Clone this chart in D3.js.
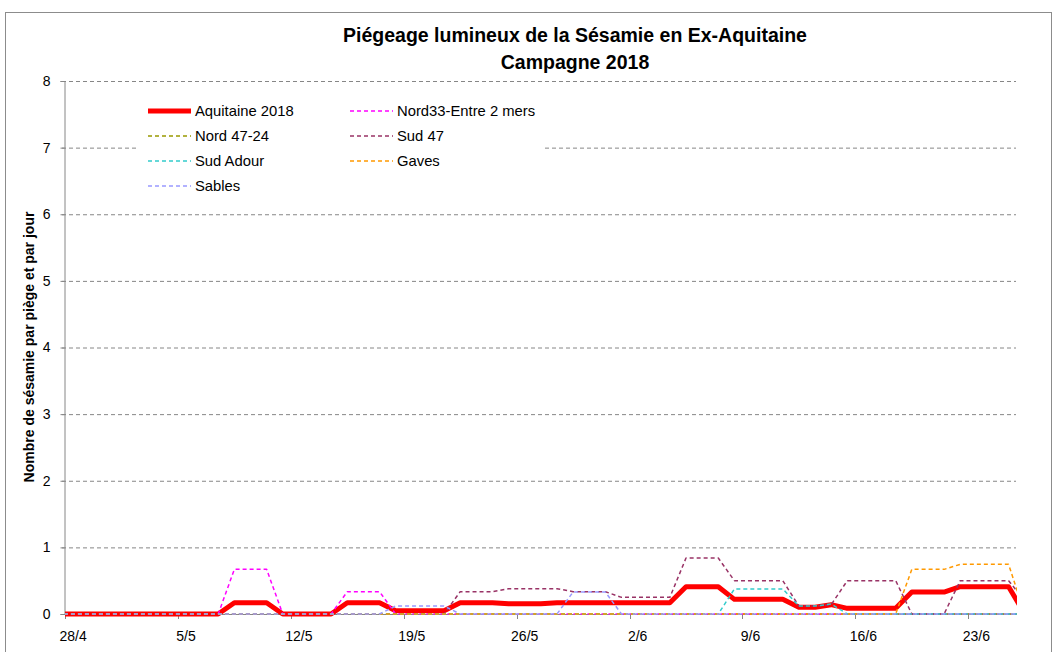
<!DOCTYPE html>
<html><head><meta charset="utf-8">
<script src="https://cdn.jsdelivr.net/npm/d3@7"></script>
<style>body{margin:0;background:#fff}svg{display:block}text{font-family:"Liberation Sans",Arial,sans-serif;fill:#000}</style>
</head><body>
<svg id="c" width="1061" height="652"></svg>
<script>
// Daily categories from 27/4/2018 to 26/6/2018 (61 days)
const firstDay = new Date(2018, 3, 27);
const lastDay = new Date(2018, 5, 26);
const categories = d3.timeDay.range(firstDay, d3.timeDay.offset(lastDay, 1));

const tickLabels = ["28/4","5/5","12/5","19/5","26/5","2/6","9/6","16/6","23/6"];
const yTicks = [0,1,2,3,4,5,6,7,8];

const aquitaine = [0,0,0,0,0,0,0,0,0,0,0, 0.17,0.17,0.17, 0,0,0,0, 0.17,0.17,0.17, 0.05,0.05,0.05,0.05, 0.17,0.17,0.17, 0.155,0.155,0.155, 0.17,0.17,0.17,0.17,0.17,0.17,0.17,0.17, 0.41,0.41,0.41, 0.22,0.22,0.22,0.22, 0.1,0.1,0.14, 0.085,0.085,0.085,0.085, 0.33,0.33,0.33, 0.41,0.41,0.41,0.41, 0];
const nord33 = [0,0,0,0,0,0,0,0,0,0,0, 0.67,0.67,0.67, 0,0,0,0, 0.335,0.335,0.335, 0,0,0,0,0,0,0,0,0,0,0,0,0,0,0,0,0,0,0,0,0,0,0,0,0,0,0,0,0,0,0,0,0,0,0,0,0,0,0,0];
const nord4724 = [0,0,0,0,0,0,0,0,0,0,0,0,0,0,0,0,0,0,0,0,0,0,0,0,0,0,0,0,0,0,0,0,0,0,0,0,0,0,0,0,0,0,0,0,0,0,0,0,0,0,0,0,0,0,0,0,0,0,0,0,0];
const sud47 = [0,0,0,0,0,0,0,0,0,0,0,0,0,0,0,0,0,0,0,0,0,0,0,0,0, 0.335,0.335,0.335, 0.38,0.38,0.38,0.38, 0.335,0.335,0.335, 0.25,0.25,0.25,0.25, 0.84,0.84,0.84, 0.5,0.5,0.5,0.5, 0.12,0.12,0.14, 0.5,0.5,0.5,0.5, 0,0,0, 0.5,0.5,0.5,0.5, 0.2];
const sudAdour = [0,0,0,0,0,0,0,0,0,0,0,0,0,0,0,0,0,0,0,0,0,0,0,0,0,0,0,0,0,0,0,0,0,0,0,0,0,0,0,0,0,0, 0.375,0.375,0.375,0.375, 0.12,0.12,0.15, 0,0,0,0,0,0,0,0,0,0,0,0,0];
const gaves = [0,0,0,0,0,0,0,0,0,0,0,0,0,0,0,0,0,0,0,0,0,0,0,0,0,0,0,0,0,0,0,0,0,0,0,0,0,0,0,0,0,0,0,0,0,0,0,0,0,0,0,0,0, 0.67,0.67,0.67, 0.745,0.745,0.745,0.745, 0];
const sables = [0,0,0,0,0,0,0,0,0,0,0,0,0,0,0,0,0,0,0,0,0, 0.12,0.12,0.12,0.12, 0,0,0,0,0,0,0, 0.33,0.33,0.33, 0,0,0,0,0,0,0,0,0,0,0,0,0,0,0,0,0,0,0,0,0,0,0,0,0,0];

const seriesNames = ["Aquitaine 2018","Nord33-Entre 2 mers","Nord 47-24","Sud 47","Sud Adour","Gaves","Sables"];
const seriesValues = [aquitaine, nord33, nord4724, sud47, sudAdour, gaves, sables];
const seriesColors = ["#FF0000","#FF00FF","#999900","#993366","#33CCCC","#FF9900","#9999FF"];

const svg = d3.select("#c");
const L = 65, R = 1016, T = 81, B = 614;

const x = d3.scaleTime()
  .domain([new Date(2018,3,27,12), new Date(2018,5,25,11)])
  .range([L, R]);
const y = d3.scaleLinear().domain([0, 8]).range([B, T]);

// chart border
svg.append("rect").attr("x",5.5).attr("y",12.5).attr("width",1046).attr("height",700)
  .attr("fill","none").attr("stroke","#8c8c8c").attr("stroke-width",1);

// title
svg.append("text").attr("x",575).attr("y",42).attr("text-anchor","middle")
  .attr("font-weight","bold").attr("font-size","19.5px").text("Piégeage lumineux de la Sésamie en Ex-Aquitaine");
svg.append("text").attr("x",575).attr("y",69).attr("text-anchor","middle")
  .attr("font-weight","bold").attr("font-size","19.5px").text("Campagne 2018");

// gridlines
svg.append("g").selectAll("line").data(yTicks.filter(v => v > 0)).join("line")
  .attr("x1", L - 3).attr("x2", R).attr("y1", d => y(d) + 0.5).attr("y2", d => y(d) + 0.5)
  .attr("stroke","#868686").attr("stroke-dasharray","4,3").attr("stroke-width",1);

// y axis
const yAxis = d3.axisLeft(y).tickValues(yTicks).tickSize(4).tickPadding(10).tickFormat(d3.format("d"));
const gy = svg.append("g").attr("transform",`translate(${L - 0.5},0)`).call(yAxis);
gy.select(".domain").attr("stroke","#868686");
gy.selectAll(".tick line").attr("stroke","#868686");
gy.selectAll("text").attr("font-size","14px").attr("font-family","Liberation Sans, Arial").attr("fill","#000");

// x axis: ticks between categories, labels at categories
const parseLabel = s => { const [dd, mm] = s.split("/").map(Number); return new Date(2018, mm - 1, dd); };
const tickDates = tickLabels.map(parseLabel);
const gx = svg.append("g");
gx.append("line").attr("x1",L).attr("x2",R).attr("y1",B + 0.5).attr("y2",B + 0.5).attr("stroke","#868686");
gx.selectAll("line.tk").data(tickDates).join("line").attr("class","tk")
  .attr("x1", d => Math.round(x(d3.timeHour.offset(d, -12))) + 0.5)
  .attr("x2", d => Math.round(x(d3.timeHour.offset(d, -12))) + 0.5)
  .attr("y1", B).attr("y2", B + 5).attr("stroke","#868686");
gx.selectAll("text").data(tickLabels).join("text")
  .attr("x", d => x(parseLabel(d))).attr("y", 641).attr("text-anchor","middle")
  .attr("font-size","14px").text(d => d);

// y axis title
svg.append("text").attr("transform","translate(34,347) rotate(-90)").attr("text-anchor","middle")
  .attr("font-weight","bold").attr("font-size","14px").text("Nombre de sésamie par piège et par jour");

// clip
svg.append("clipPath").attr("id","clip").append("rect").attr("x",L).attr("y",T - 5).attr("width",R - L + 1).attr("height",B - T + 8);

const line = d3.line().x((d, i) => x(categories[i])).y(d => y(d));
const plot = svg.append("g").attr("clip-path","url(#clip)");
seriesValues.forEach((vals, k) => {
  plot.append("path").attr("d", line(vals)).attr("fill","none")
    .attr("stroke", seriesColors[k])
    .attr("stroke-width", k === 0 ? 5 : 1.5)
    .attr("stroke-linejoin","round")
    .attr("stroke-dasharray", k === 0 ? null : "4,3");
});

// legend
const leg = svg.append("g");
leg.append("rect").attr("x",139).attr("y",96).attr("width",405).attr("height",102).attr("fill","#fff");
const legPos = [[148,111],[350,111],[148,136],[350,136],[148,161],[350,161],[148,186]];
seriesNames.forEach((name, k) => {
  const [lx, ly] = legPos[k];
  leg.append("line").attr("x1",lx).attr("x2",lx + 43).attr("y1",ly).attr("y2",ly)
    .attr("stroke",seriesColors[k]).attr("stroke-width", k === 0 ? 5 : 1.5)
    .attr("stroke-dasharray", k === 0 ? null : "4,3");
  leg.append("text").attr("x",lx + 47).attr("y",ly + 5).attr("font-size","14.8px").text(name);
});
</script>
</body></html>
